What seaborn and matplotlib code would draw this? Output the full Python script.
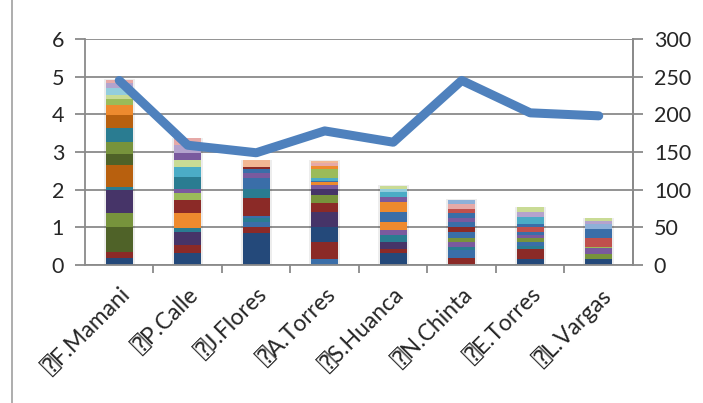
import matplotlib
matplotlib.use("Agg")
import matplotlib.pyplot as plt
import matplotlib.transforms as mtransforms
from matplotlib.lines import Line2D
import seaborn as sns
import pandas as pd

# ---- data -------------------------------------------------------------
names = ["F.Mamani", "P.Calle", "J.Flores", "A.Torres",
         "S.Huanca", "N.Chinta", "E.Torres", "L.Vargas"]
marker = "\u2370"  # boxed question mark shown before every name

line_values = [245, 159, 149, 178, 163, 245, 202, 198]

# stacked segments of each bar, bottom to top
seg_mamani = [.18, .17, .67, .35, .62, .09, .57, .31, .31, .36, .35, .26, .18, .09, .18, .13, .09]
seg_calle = [.31, .22, .35, .09, .40, .36, .17, .11, .33, .27, .19, .18, .20, .18]
seg_flores = [.84, .18, .11, .11, .06, .47, .26, .27, .13, .11, .05, .19]
seg_atorres = [.15, .47, .38, .41, .23, .22, .17, .09, .08, .04, .06, .26, .07, .07, .06]
seg_huanca = [.31, .11, .18, .20, .13, .22, .26, .27, .13, .13, .09, .07]
seg_chinta = [.18, .22, .09, .13, .09, .17, .14, .13, .09, .13, .13, .13, .09]
seg_etorres = [.17, .25, .09, .09, .11, .09, .08, .12, .08, .20, .14, .11]
seg_vargas = [.17, .11, .16, .04, .25, .22, .13, .09, .07]

# colour keys of the segments
col_mamani = ["bd", "rd", "od", "o", "pd", "t", "ord", "od", "o", "t", "ord", "or", "g", "gl", "al", "pl", "rl"]
col_calle = ["bd", "rd", "pd", "t", "or", "rd", "g", "p", "t", "a", "gl", "p", "pl", "rl"]
col_flores = ["bd", "rd", "b", "t", "b", "rd", "t", "b", "p", "b", "rd", "ol"]
col_atorres = ["b", "rd", "bd", "pd", "rd", "o", "pd", "p", "or", "b", "a", "g", "or", "rl", "ol"]
col_huanca = ["bd", "rd", "pd", "t", "p", "or", "b", "or", "p", "a", "al", "gl"]
col_chinta = ["rd", "b", "t", "p", "o", "b", "rd", "b", "p", "b", "r", "rl", "bl"]
col_etorres = ["bd", "rd", "t", "b", "o", "p", "b", "r", "b", "a", "pl", "gl"]
col_vargas = ["bd", "o", "p", "g", "r", "b", "bl", "pl", "gl"]

segments = [seg_mamani, seg_calle, seg_flores, seg_atorres,
            seg_huanca, seg_chinta, seg_etorres, seg_vargas]
seg_colors = [col_mamani, col_calle, col_flores, col_atorres,
              col_huanca, col_chinta, col_etorres, col_vargas]

palette = {
    "b": "#3A6EA8", "bd": "#24497A", "bl": "#8EB0D8",
    "r": "#C0504D", "rd": "#8B2A27", "rl": "#E6A9A7",
    "g": "#9BBB59", "gl": "#C9DB95", "o": "#77933C", "od": "#4F6228",
    "p": "#7A5A9E", "pd": "#463468", "pl": "#B4A3CD",
    "a": "#4BACC6", "al": "#93CDDD", "t": "#2A7C91",
    "or": "#EE8A2E", "ord": "#B8600E", "ol": "#F2B793",
}

# ---- figure -----------------------------------------------------------
sns.set_style("white")
plt.rcParams["font.family"] = ["Lato", "DejaVu Sans", "DejaVu Sans Mono"]

fig = plt.figure(figsize=(7.03, 4.03), dpi=100)
ax = fig.add_axes([0.1209, 0.3424, 0.7795, 0.5608])
grey = "#8A8A8A"

ax.set_xlim(-0.5, 7.5)
ax.set_ylim(0, 6)
ax.set_yticks(range(7))
ax.yaxis.grid(True, color=grey, linewidth=1.3, zorder=0)
ax.set_axisbelow(True)

width = 0.4
for i, (segs, cols) in enumerate(zip(segments, seg_colors)):
    total = sum(segs)
    # soft shadow round the bar
    ax.bar(i, total + 0.02, width=width + 0.05, color="#000000",
           alpha=0.07, zorder=1, linewidth=0)
    bottom = 0.0
    for h, c in zip(segs, cols):
        ax.bar(i, h, bottom=bottom, width=width, color=palette[c],
               linewidth=0, zorder=2)
        bottom += h

ax.spines["top"].set_visible(False)
for side in ["left", "right", "bottom"]:
    ax.spines[side].set_color(grey)
    ax.spines[side].set_linewidth(1.3)

ax.tick_params(axis="y", which="major", length=7, width=1.3, color=grey,
               direction="out", labelsize=15.5, pad=8, left=True)
ax.set_xticks(range(8))
ax.set_xticklabels([marker + n for n in names], rotation=45, ha="right",
                   rotation_mode="anchor", fontsize=16.5)
ax.tick_params(axis="x", which="major", length=0, pad=4)
ax.set_xticks([k - 0.5 for k in range(1, 8)], minor=True)
ax.tick_params(axis="x", which="minor", length=6, width=1.3, color=grey,
               direction="out", bottom=True)
offset = mtransforms.ScaledTranslation(0.01, -0.14, fig.dpi_scale_trans)
for lbl in ax.get_xticklabels():
    lbl.set_transform(lbl.get_transform() + offset)

# ---- line on the secondary axis ---------------------------------------
ax2 = ax.twinx()
df_line = pd.DataFrame({"x": range(8), "v": line_values})
sns.lineplot(data=df_line, x="x", y="v", ax=ax2, color="#4F81BD",
             linewidth=6.5, solid_capstyle="round", zorder=5)
ax2.set_ylim(0, 300)
ax2.set_yticks(range(0, 301, 50))
ax2.set_ylabel("")
ax2.set_xlabel("")
ax.set_xlabel("")
for side in ["top", "left", "bottom"]:
    ax2.spines[side].set_visible(False)
ax2.spines["right"].set_color(grey)
ax2.spines["right"].set_linewidth(1.3)
ax2.tick_params(axis="y", length=7, width=1.3, color=grey, direction="out",
                labelsize=15.5, pad=8, right=True)
ax2.set_xlim(-0.5, 7.5)

# chart frame edge on the left
fig.add_artist(Line2D([12 / 703, 12 / 703], [0, 1], color="#A0A0A0",
                      linewidth=1.2, transform=fig.transFigure))

fig.savefig("out.png", dpi=100)
